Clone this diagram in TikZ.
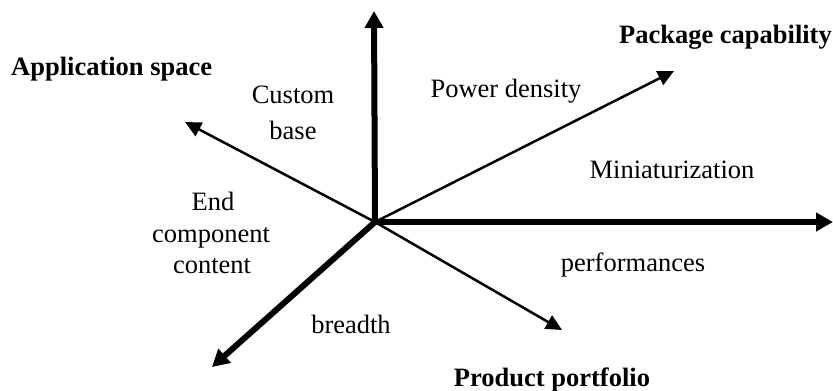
\documentclass[tikz,border=0pt]{standalone}
\usepackage{fontspec}
\setmainfont{Liberation Serif}
\usetikzlibrary{arrows.meta}
\begin{document}
\begin{tikzpicture}[x=1pt,y=-1pt,
  axis/.style={line width=6pt,-{Triangle[length=17pt,width=18pt]}},
  ray/.style={line width=2.5pt,-{Triangle[length=16pt,width=15pt]}},
  lbl/.style={inner sep=0pt,anchor=base,font=\fontsize{26.5}{32}\selectfont},
  title/.style={lbl,font=\fontsize{26.5}{32}\selectfont\bfseries}]
\useasboundingbox (0,0) rectangle (833,391);

% origin and arrow ends
\coordinate (o)  at (375,222);
\coordinate (up) at (374,11);
\coordinate (rt) at (833,222);
\coordinate (dl) at (212,367);
\coordinate (ul) at (185,122);
\coordinate (ur) at (674,71);
\coordinate (dr) at (562,330);

% main axes
\draw[axis] (o) -- (up);
\draw[axis] (o) -- (rt);
\draw[axis] (o) -- (dl);

% secondary directions
\draw[ray] (o) -- (ul);
\draw[ray] (o) -- (ur);
\draw[ray] (o) -- (dr);

% axis titles
\node[title,anchor=base west] (app) at (11,75) {Application space};
\node[title,anchor=base east] (pkg) at (832,43) {Package capability};
\node[title] (prod) at (552,386) {Product portfolio};

% sector labels
\node[lbl] (custom1) at (293,103) {Custom};
\node[lbl] (custom2) at (293,139) {base};
\node[lbl] (power) at (506,97) {Power density};
\node[lbl] (mini) at (672,178) {Miniaturization};
\node[lbl] (end1) at (213,210) {End};
\node[lbl] (end2) at (211,242) {component};
\node[lbl] (end3) at (212,273) {content};
\node[lbl] (perf) at (633,271) {performances};
\node[lbl] (bread) at (351,333) {breadth};
\end{tikzpicture}
\end{document}
